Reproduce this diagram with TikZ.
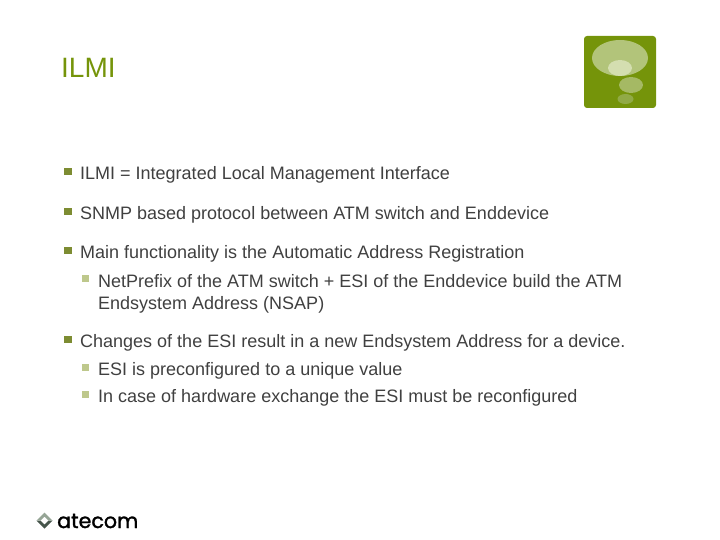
\documentclass[tikz,border=0pt]{standalone}
\usepackage{fontspec}
\setmainfont{Liberation Sans}
\newfontfamily\logofont[FakeBold=1.5]{Poppins}
\usepackage{tikz}
\definecolor{olive}{RGB}{117,148,10}
\definecolor{lineolive}{RGB}{125,140,50}
\definecolor{subolive}{RGB}{190,200,140}
\definecolor{bodytext}{RGB}{64,64,64}
\begin{document}
\begin{tikzpicture}[x=1pt,y=-1pt,
head/.style={anchor=base west,inner sep=0pt,text=olive,font=\fontsize{28}{30}\selectfont},
line/.style={anchor=base west,inner sep=0pt,text=bodytext,font=\fontsize{18}{22}\selectfont},
mark1/.style={fill=lineolive,minimum size=7.5pt,inner sep=0pt},
mark2/.style={fill=subolive,minimum size=7pt,inner sep=0pt}]
\useasboundingbox (0,0) rectangle (720,540);
\node[head] (T) at (61,78) {ILMI};
\node[mark1] (B1) at (68,171.5) {};
\node[line] (L1) at (80,179.5) {ILMI = Integrated Local Management Interface};
\node[mark1] (B2) at (68,211.5) {};
\node[line] (L2) at (80,219.5) {SNMP based protocol between ATM switch and Enddevice};
\node[mark1] (B3) at (68,250.5) {};
\node[line] (L3) at (80,258.5) {Main functionality is the Automatic Address Registration};
\node[mark2] (B4) at (85.5,278.5) {};
\node[line] (L4) at (98,287) {NetPrefix of the ATM switch + ESI of the Enddevice build the ATM};
\node[line] (L5) at (98,309) {Endsystem Address (NSAP)};
\node[mark1] (B5) at (68,339.5) {};
\node[line] (L6) at (80,347.5) {Changes of the ESI result in a new Endsystem Address for a device.};
\node[mark2] (B6) at (85.5,367.5) {};
\node[line] (L7) at (98,375.5) {ESI is preconfigured to a unique value};
\node[mark2] (B7) at (85.5,394.5) {};
\node[line] (L8) at (98,402.5) {In case of hardware exchange the ESI must be reconfigured};
\fill[rounded corners=3pt,fill=olive] (584,36) rectangle (656,108);
\fill[fill={rgb,255:red,178;green,196;blue,122}] (620,58) ellipse (28pt and 18pt);
\fill[fill={rgb,255:red,212;green,222;blue,176}] (620,68) ellipse (12pt and 8pt);
\fill[fill={rgb,255:red,165;green,185;blue,100}] (631,85) ellipse (12pt and 8pt);
\fill[fill={rgb,255:red,145;green,170;blue,70}] (625.5,99) ellipse (8pt and 5pt);
\node[anchor=base west,inner sep=0pt,text=black,font=\fontsize{20.6}{25}\logofont] (A) at (57,528) {atecom};
\fill[fill={rgb,255:red,70;green,85;blue,75}] (36.5,520.5) -- (44.5,528.5) -- (52.5,520.5) -- (48.5,520.5) -- (44.5,524.5) -- (40.5,520.5) -- cycle;
\fill[fill={rgb,255:red,150;green,165;blue,150}] (36.5,520.5) -- (44.5,512.5) -- (52.5,520.5) -- (48.5,520.5) -- (44.5,516.5) -- (40.5,520.5) -- cycle;
\end{tikzpicture}
\end{document}
